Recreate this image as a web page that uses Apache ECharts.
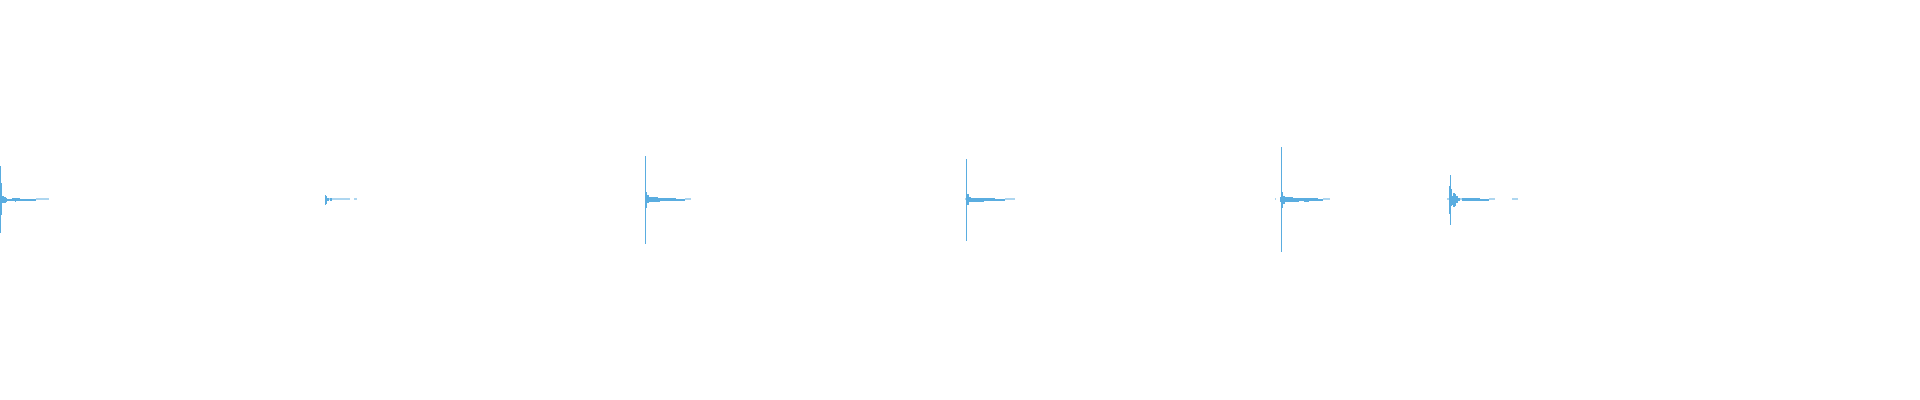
<!DOCTYPE html>
<html>
<head>
<meta charset="utf-8">
<script src="https://cdn.jsdelivr.net/npm/echarts@6/dist/echarts.min.js"></script>
<style>
    html, body { margin: 0; padding: 0; background: #fff; }
    #chart { width: 1920px; height: 400px; }
</style>
</head>
<body>
<div id="chart"></div>
<script>
// sample index where each burst starts
var burstStarts = [0, 325, 645, 966, 1281, 1449];

// each burst: [offset, length, peak, trough] (amplitude, full scale = 1)
var burst1 = [[0, 1, 0.17, -0.165], [1, 1, 0.085, -0.075], [2, 2, 0.02, -0.015], [4, 2, 0.015, -0.015],
    [6, 1, 0.01, -0.01], [7, 5, 0.005, -0.005], [12, 3, 0.01, -0.005], [15, 1, 0.01, -0.01],
    [16, 4, 0.01, -0.005], [20, 16, 0.005, -0.005], [36, 13, 0.005, 0]];
var burst2 = [[0, 1, 0.025, -0.025], [1, 1, 0.02, -0.02], [2, 2, 0.01, -0.005], [4, 1, 0.005, 0],
    [5, 2, 0.01, -0.005], [7, 18, 0.005, 0], [29, 3, 0.005, 0]];
var burst3 = [[0, 1, 0.22, -0.22], [1, 1, 0.04, -0.04], [2, 2, 0.025, -0.015], [4, 2, 0.015, -0.01],
    [6, 7, 0.015, -0.01], [13, 2, 0.01, -0.01], [15, 16, 0.01, -0.005], [31, 9, 0.005, -0.005],
    [40, 6, 0.005, 0]];
var burst4 = [[-1, 1, 0.005, 0], [0, 1, 0.205, -0.205], [1, 2, 0.03, -0.025], [3, 2, 0.015, -0.01],
    [5, 4, 0.01, -0.01], [9, 9, 0.01, -0.01], [18, 11, 0.01, -0.005], [29, 10, 0.005, -0.005],
    [39, 10, 0.005, 0]];
var burst5 = [[-6, 1, 0.005, 0], [-1, 1, 0.015, -0.01], [0, 1, 0.265, -0.26], [1, 1, 0.04, -0.04],
    [2, 2, 0.02, -0.02], [4, 8, 0.015, -0.01], [12, 6, 0.01, -0.01], [18, 5, 0.01, -0.005],
    [23, 5, 0.01, -0.01], [28, 9, 0.01, -0.005], [37, 5, 0.005, -0.005], [42, 7, 0.005, 0]];
var burst6 = [[-2, 2, 0.005, 0], [0, 1, 0.07, -0.07], [1, 1, 0.125, -0.125], [2, 1, 0.055, -0.03],
    [3, 1, 0.02, -0.025], [4, 2, 0.035, -0.035], [6, 1, 0.03, -0.03], [7, 2, 0.02, -0.015],
    [9, 2, 0.01, -0.005], [11, 2, 0.005, 0], [13, 18, 0.01, -0.005], [31, 9, 0.005, -0.005],
    [40, 6, 0.005, 0], [63, 6, 0.005, 0]];

var bursts = [burst1, burst2, burst3, burst4, burst5, burst6];
var totalSamples = 1920;

// flatten to [x0, x1, trough, peak]
var waveData = [];
bursts.forEach(function (b, i) {
    var s = burstStarts[i];
    b.forEach(function (seg) {
        waveData.push([s + seg[0], s + seg[0] + seg[1], seg[3], seg[2]]);
    });
});

var myChart = echarts.init(document.getElementById('chart'));
var option = {
    animation: false,
    grid: { left: 0, right: 0, top: 0, bottom: 0 },
    xAxis: { type: 'value', min: 0, max: totalSamples, show: false },
    yAxis: { type: 'value', min: -1, max: 1, show: false },
    series: [{
        type: 'custom',
        data: waveData,
        encode: { x: [0, 1], y: [2, 3] },
        renderItem: function (params, api) {
            var p1 = api.coord([api.value(0), api.value(3)]);
            var p2 = api.coord([api.value(1), api.value(2)]);
            var h = Math.max(1, p2[1] - p1[1]);
            return {
                type: 'rect',
                shape: {
                    x: p1[0],
                    y: h > 1 ? p1[1] : Math.round(p1[1]) - 0.5,
                    width: Math.max(1, p2[0] - p1[0]),
                    height: h
                },
                style: { fill: '#5aade0' }
            };
        }
    }]
};
myChart.setOption(option);
</script>
</body>
</html>
